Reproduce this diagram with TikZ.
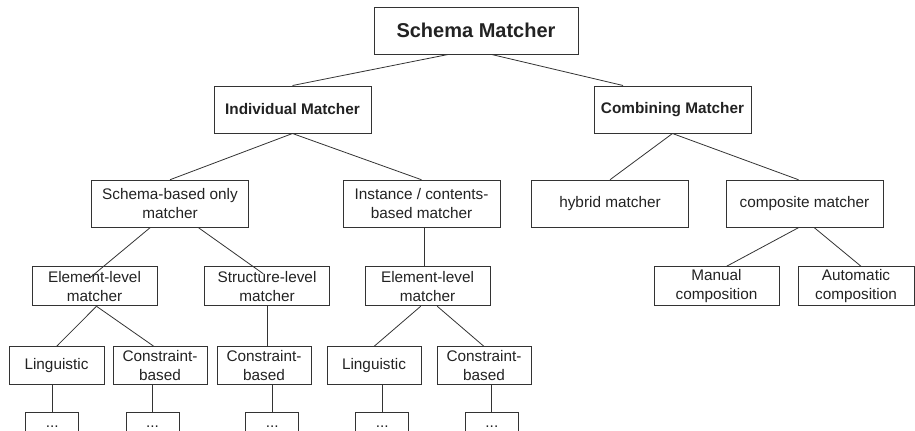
\documentclass[tikz,border=0pt]{standalone}
\usepackage{fontspec}
\setmainfont{Liberation Sans}
\definecolor{inkline}{HTML}{333333}
\definecolor{inktext}{HTML}{222222}

\begin{document}
\begin{tikzpicture}
[every node/.style={inner sep=0pt, align=center, text=inktext, font=\fontsize{11.5}{14.25}\selectfont},
 box/.style={rectangle, draw=inkline, line width=0.75pt},
 headbox/.style={box, minimum width=117.75pt, minimum height=35.25pt, font=\fontsize{11.5}{14.25}\selectfont\bfseries},
 catbox/.style={box, minimum width=117.75pt, minimum height=35.25pt},
 kindbox/.style={box, minimum width=93.75pt, minimum height=29.25pt},
 leafbox/.style={box, minimum width=70.5pt, minimum height=28pt},
 dotbox/.style={box, minimum width=39.75pt, minimum height=27.75pt, text height=11.25pt, text depth=16.5pt},
 link/.style={line width=0.6pt, color=inkline}]
\useasboundingbox (0pt, 0pt) rectangle (686.25pt, -322.5pt);
\node (sm) [box, minimum width=153pt, minimum height=35.25pt, font=\fontsize{15}{18}\selectfont\bfseries] at (357pt, -22.875pt) {Schema Matcher};
\node (im) [headbox] at (219.375pt, -82.125pt) {Individual Matcher};
\node (cm) [headbox] at (504.375pt, -82.125pt) {Combining Matcher};
\node (sb) [catbox] at (127.5pt, -152.8pt) {Schema-based only\\matcher};
\node (ib) [catbox] at (316.125pt, -152.8pt) {Instance / contents-\\based matcher};
\node (hm) [catbox] at (457.5pt, -152.8pt) {hybrid matcher};
\node (cp) [catbox] at (603.375pt, -152.8pt) {composite matcher};
\node (el1) [kindbox] at (70.875pt, -214.7pt) {Element-level\\matcher};
\node (st) [kindbox] at (200.25pt, -214.7pt) {Structure-level\\matcher};
\node (el2) [kindbox] at (320.625pt, -214.7pt) {Element-level\\matcher};
\node (mc) [kindbox] at (537.375pt, -214.7pt) {Manual\\composition};
\node (ac) [kindbox, minimum width=87pt] at (642pt, -214.7pt) {Automatic\\composition};
\node (li1) [leafbox, minimum width=71.25pt] at (42.375pt, -274.2pt) {Linguistic};
\node (cb1) [leafbox] at (120pt, -274.2pt) {Constraint-\\based};
\node (cb2) [leafbox] at (198pt, -274.2pt) {Constraint-\\based};
\node (li2) [leafbox] at (280.5pt, -274.2pt) {Linguistic};
\node (cb3) [leafbox] at (363pt, -274.2pt) {Constraint-\\based};
\node (d1) [dotbox] at (39.2pt, -323.1pt) {...};
\node (d2) [dotbox] at (114.4pt, -323.1pt) {...};
\node (d3) [dotbox] at (204.2pt, -323.1pt) {...};
\node (d4) [dotbox] at (286.7pt, -323.1pt) {...};
\node (d5) [dotbox] at (368.9pt, -323.1pt) {...};
\draw [link] ([xshift=-21pt]sm.south) to (im.north);
\draw [link] ([xshift=11.8pt]sm.south) to ([xshift=-37.1pt]cm.north);
\draw [link] (im.south) to (sb.north);
\draw [link] (im.south) to (ib.north);
\draw [link] (cm.south) to (hm.north);
\draw [link] (cm.south) to ([xshift=-4.5pt]cp.north);
\draw [link] ([xshift=-15pt]sb.south) to ([xshift=-3.4pt, yshift=-8.6pt]el1.north);
\draw [link] ([xshift=21.4pt]sb.south) to ([xshift=-2.8pt, yshift=-5.6pt]st.north);
\draw [link] ([xshift=2pt]ib.south) to ([xshift=2pt]ib.south |- el2.north);
\draw [link] ([xshift=-4.6pt]cp.south) to ([xshift=7.6pt]mc.north);
\draw [link] ([xshift=7.4pt]cp.south) to ([xshift=3.75pt]ac.north);
\draw [link] ([xshift=1.5pt]el1.south) to (li1.north);
\draw [link] ([xshift=1.5pt]el1.south) to ([xshift=-4.5pt]cb1.north);
\draw [link] (st.south) to (st.south |- cb2.north);
\draw [link] ([xshift=-5.1pt]el2.south) to (li2.north);
\draw [link] ([xshift=7.3pt]el2.south) to (cb3.north);
\draw [link] (d1.north |- li1.south) to (d1.north);
\draw [link] (d2.north |- cb1.south) to (d2.north);
\draw [link] (d3.north |- cb2.south) to (d3.north);
\draw [link] (d4.north |- li2.south) to (d4.north);
\draw [link] (d5.north |- cb3.south) to (d5.north);
\end{tikzpicture}
\end{document}
